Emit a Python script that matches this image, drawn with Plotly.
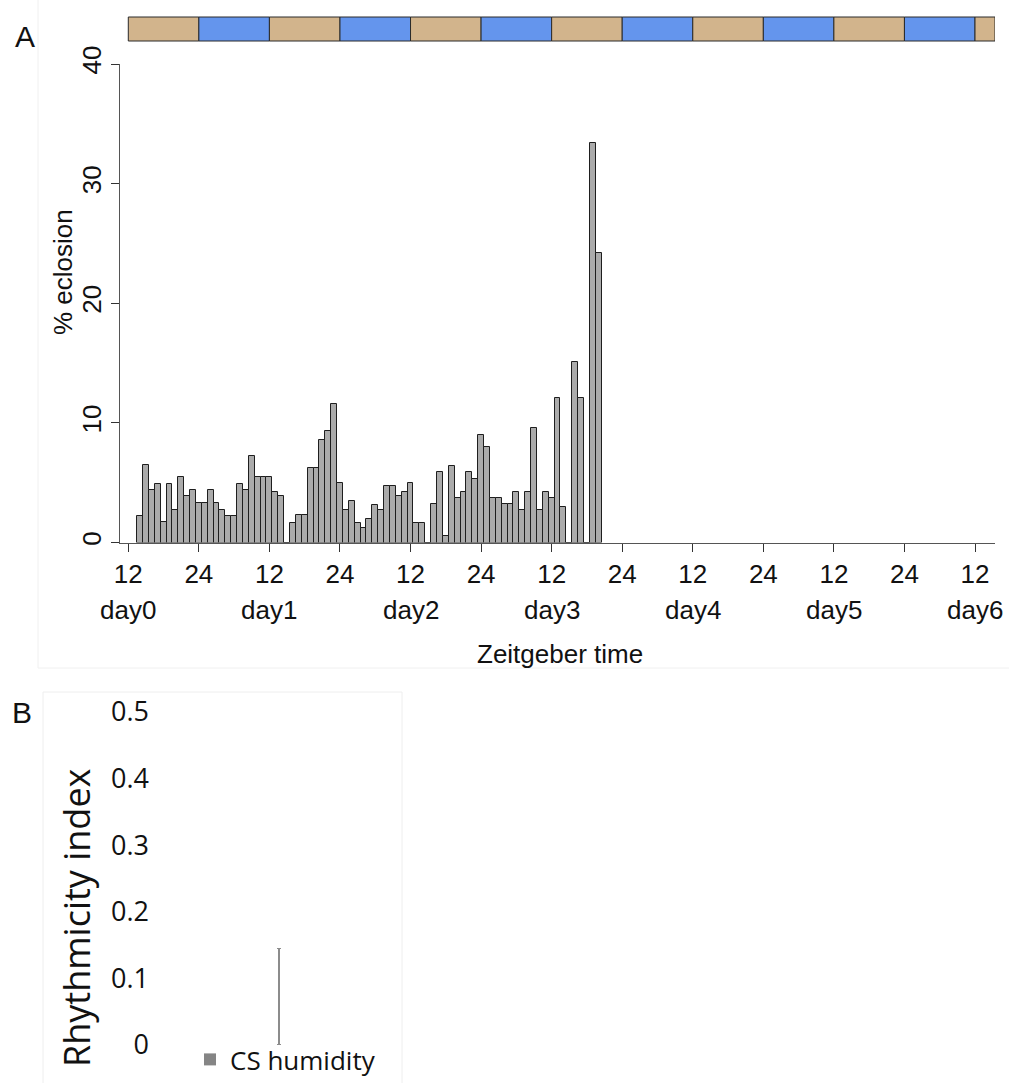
import plotly.graph_objects as go

W, H = 1009, 1083

# ---------------- data ----------------
# hours after ZT12 of day0 (bar centers, 1-h bins)
hours = list(range(2, 81))
eclosion_pct = [
    2.2, 6.5, 4.4, 4.9, 1.7, 4.9, 2.7, 5.5, 3.9, 4.4, 3.3, 3.3, 4.4, 3.3, 2.7, 2.2, 2.2,
    4.9, 4.4, 7.2, 5.5, 5.5, 5.5, 4.2, 3.9, 0.0,
    1.6, 2.3, 2.3, 6.2, 6.2, 8.6, 9.3, 11.6, 5.0, 2.7, 3.5, 1.6, 1.2, 2.0, 3.1, 2.7,
    4.7, 4.7, 3.9, 4.2, 5.0, 1.6, 1.6, 0.0,
    3.2, 5.9, 0.55, 6.4, 3.7, 4.2, 5.9, 5.3, 9.0, 8.0, 3.7, 3.7, 3.2, 3.2, 4.2, 2.7,
    4.2, 9.6, 2.7, 4.2, 3.7, 12.1, 3.0, 0.0,
    15.1, 12.1, 0.0, 33.4, 24.2,
]
x_tick_vals = [0, 12, 24, 36, 48, 60, 72, 84, 96, 108, 120, 132, 144]
x_tick_text = ["12", "24", "12", "24", "12", "24", "12", "24", "12", "24", "12", "24", "12"]
day_positions = [0, 24, 48, 72, 96, 120, 144]
day_labels = ["day0", "day1", "day2", "day3", "day4", "day5", "day6"]
y_ticks_a = [0, 10, 20, 30, 40]
# 12-h phase blocks of the top strip
phase_starts = [0, 12, 24, 36, 48, 60, 72, 84, 96, 108, 120, 132, 144]
phase_kind = ["tan", "blue", "tan", "blue", "tan", "blue", "tan", "blue", "tan", "blue", "tan", "blue", "tan"]

# panel B
b_categories = ["CS humidity"]
b_values = [0.0]
b_err_plus = [0.145]
b_y_ticks = [0, 0.1, 0.2, 0.3, 0.4, 0.5]
b_y_text = ["0", "0.1", "0.2", "0.3", "0.4", "0.5"]

# ---------------- layout helpers ----------------
def px_x(p):
    return p / W

def px_y(p):
    return 1 - p / H

FONT = "Liberation Sans, Arial, sans-serif"
FONT_B = "Open Sans, Liberation Sans, Arial, sans-serif"
X_MIN, X_MAX = -1.41, 147.4
phase_colors = {"tan": "#D2B48C", "blue": "#6495ED"}

fig = go.Figure()

fig.add_trace(go.Bar(
    x=hours, y=eclosion_pct, width=1,
    marker=dict(color="#ababab", line=dict(color="#1e1e1e", width=1)),
    xaxis="x", yaxis="y", showlegend=False,
))

fig.add_trace(go.Bar(
    x=b_categories, y=b_values, name="CS humidity",
    marker=dict(color="#858585", line=dict(width=0)),
    error_y=dict(type="data", symmetric=False, array=b_err_plus, arrayminus=[0],
                 color="#8c8c8c", thickness=1.2, width=2),
    xaxis="x2", yaxis="y2", showlegend=True,
))

shapes = []
for start, kind in zip(phase_starts, phase_kind):
    shapes.append(dict(
        type="rect", xref="x", yref="paper",
        x0=start, x1=min(start + 12, X_MAX),
        y0=px_y(41), y1=px_y(17),
        fillcolor=phase_colors[kind], line=dict(color="#2a2a2a", width=1),
        layer="above",
    ))
# faint frame lines around the panels
shapes.append(dict(type="line", xref="paper", yref="paper",
                   x0=px_x(38), x1=px_x(38), y0=px_y(0), y1=px_y(668),
                   line=dict(color="#f0f0f0", width=1)))
shapes.append(dict(type="line", xref="paper", yref="paper",
                   x0=px_x(38), x1=1, y0=px_y(668), y1=px_y(668),
                   line=dict(color="#f0f0f0", width=1)))
shapes.append(dict(type="rect", xref="paper", yref="paper",
                   x0=px_x(43), x1=px_x(402), y0=px_y(1090), y1=px_y(692),
                   line=dict(color="#eeeeee", width=1), fillcolor="rgba(0,0,0,0)"))

annotations = []
for pos, lab in zip(day_positions, day_labels):
    annotations.append(dict(
        x=pos, xref="x", y=px_y(610), yref="paper", text=lab, showarrow=False,
        xanchor="center", yanchor="middle", font=dict(family=FONT, size=26, color="#111"),
    ))
annotations += [
    dict(x=px_x(560), y=px_y(654), xref="paper", yref="paper", text="Zeitgeber time",
         showarrow=False, xanchor="center", yanchor="middle",
         font=dict(family=FONT, size=26, color="#111")),
    dict(x=px_x(63), y=px_y(272), xref="paper", yref="paper", text="% eclosion",
         showarrow=False, textangle=-90, xanchor="center", yanchor="middle",
         font=dict(family=FONT, size=26, color="#111")),
    dict(x=px_x(25), y=px_y(36), xref="paper", yref="paper", text="A",
         showarrow=False, xanchor="center", yanchor="middle",
         font=dict(family=FONT, size=30, color="#111")),
    dict(x=px_x(22), y=px_y(712), xref="paper", yref="paper", text="B",
         showarrow=False, xanchor="center", yanchor="middle",
         font=dict(family=FONT, size=30, color="#111")),
    dict(x=px_x(76), y=px_y(918), xref="paper", yref="paper", text="Rhythmicity index",
         showarrow=False, textangle=-90, xanchor="center", yanchor="middle",
         font=dict(family=FONT_B, size=36, color="#111")),
]

fig.update_layout(
    width=W, height=H,
    margin=dict(l=0, r=0, t=0, b=0, autoexpand=False),
    paper_bgcolor="white", plot_bgcolor="white",
    bargap=0,
    font=dict(family=FONT, color="#111"),
    xaxis=dict(
        domain=[px_x(120), px_x(995)], range=[X_MIN, X_MAX],
        tickvals=x_tick_vals, ticktext=x_tick_text,
        ticks="outside", ticklen=8, tickcolor="#333", tickwidth=1,
        showline=True, linecolor="#555", linewidth=1,
        showgrid=False, zeroline=False,
        tickfont=dict(family=FONT, size=26, color="#111"),
        anchor="y", automargin=False,
    ),
    yaxis=dict(
        domain=[px_y(542.5), px_y(64)], range=[0, 40],
        tickvals=y_ticks_a, tickangle=-90,
        ticks="outside", ticklen=8, tickcolor="#333", tickwidth=1,
        showline=True, linecolor="#555", linewidth=1,
        showgrid=False, zeroline=False,
        tickfont=dict(family=FONT, size=26, color="#111"),
        anchor="x", automargin=False,
    ),
    xaxis2=dict(
        domain=[px_x(150), px_x(408)], range=[-0.5, 0.5],
        showticklabels=False, showline=False, showgrid=False, zeroline=False,
        anchor="y2", automargin=False,
    ),
    yaxis2=dict(
        domain=[px_y(1045), px_y(712)], range=[0, 0.5],
        tickvals=b_y_ticks, ticktext=b_y_text,
        showline=False, showgrid=False, zeroline=False, ticks="",
        tickfont=dict(family=FONT_B, size=27, color="#111"),
        anchor="x2", automargin=False,
    ),
    legend=dict(
        x=px_x(190), y=0, xanchor="left", yanchor="bottom",
        font=dict(family=FONT_B, size=26, color="#111"),
        bgcolor="rgba(0,0,0,0)", itemsizing="constant",
    ),
    shapes=shapes,
    annotations=annotations,
)

fig.write_html("out.html")
